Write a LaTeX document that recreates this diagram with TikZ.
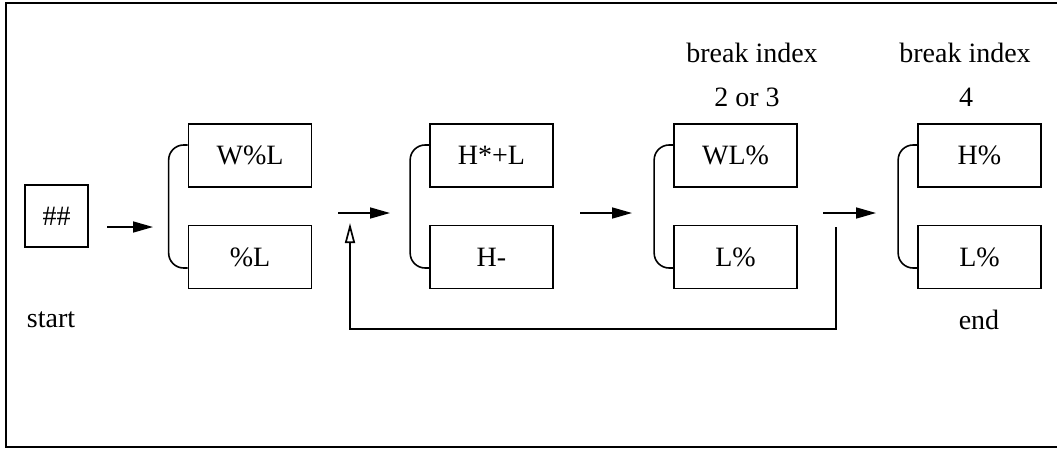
\documentclass[tikz,border=0pt]{standalone}
\usepackage{fontspec}
\setmainfont{Liberation Serif}
\usetikzlibrary{arrows.meta}
\begin{document}
\begin{tikzpicture}[x=1pt,y=-1pt,
  font=\fontsize{28}{34}\selectfont,
  tonebox/.style={draw,line width=1.7pt,minimum width=123pt,minimum height=63pt,inner sep=0pt},
  bracketline/.style={line width=1.6pt,rounded corners=15pt},
  flow/.style={line width=1.7pt,-{Triangle[length=20pt,width=11pt]}},
  back/.style={line width=1.7pt,-{Triangle[open,length=20pt,width=10pt]}},
  label/.style={inner sep=0pt}]
\useasboundingbox (0,0) rectangle (1057,450);

% outer frame (open on the right)
\draw[line width=2pt] (1057,3) -- (6,3) -- (6,447) -- (1057,447);

% start symbol
\node[draw,line width=1.7pt,minimum width=63pt,minimum height=62pt,inner sep=0pt] (hash) at (56.5,216) {\#\#};
\node[label] (start) at (51,320) {start};

% tone groups
\node[tonebox] (t1) at (250,155.5) {W\%L};
\node[tonebox] (b1) at (250,257) {\%L};
\node[tonebox] (t2) at (491.5,155.5) {H*+L};
\node[tonebox] (b2) at (491.5,257) {H-};
\node[tonebox] (t3) at (735.5,155.5) {WL\%};
\node[tonebox] (b3) at (735.5,257) {L\%};
\node[tonebox] (t4) at (979.5,155.5) {H\%};
\node[tonebox] (b4) at (979.5,257) {L\%};

% brackets joining the alternatives of each group
\foreach \g in {1,2,3,4}{
  \draw[bracketline] ([yshift=10.5pt]t\g.west) -- ++(-19,0) |- ([yshift=-11pt]b\g.west);
}

% labels
\node[label] (bi3) at (752,53) {break index};
\node[label] (n3) at (747,97) {2 or 3};
\node[label] (bi4) at (965,53) {break index};
\node[label] (n4) at (966,97) {4};
\node[label] (end) at (979,320) {end};

% arrow end points
\coordinate (a1s) at (107,227);
\coordinate (a1e) at (153,227);
\coordinate (a2s) at (338,213);
\coordinate (a2e) at (390,213);
\coordinate (a3s) at (580,213);
\coordinate (a3e) at (632,213);
\coordinate (a4s) at (823,213);
\coordinate (a4e) at (876,213);
\coordinate (fbs) at (836,227);
\coordinate (fbe) at (350,223);

\draw[flow] (a1s) -- (a1e);
\draw[flow] (a2s) -- (a2e);
\draw[flow] (a3s) -- (a3e);
\draw[flow] (a4s) -- (a4e);

% loop back to an intermediate phrase
\draw[back] (fbs) -- (836,329) -- (350,329) -- (fbe);
\end{tikzpicture}
\end{document}
